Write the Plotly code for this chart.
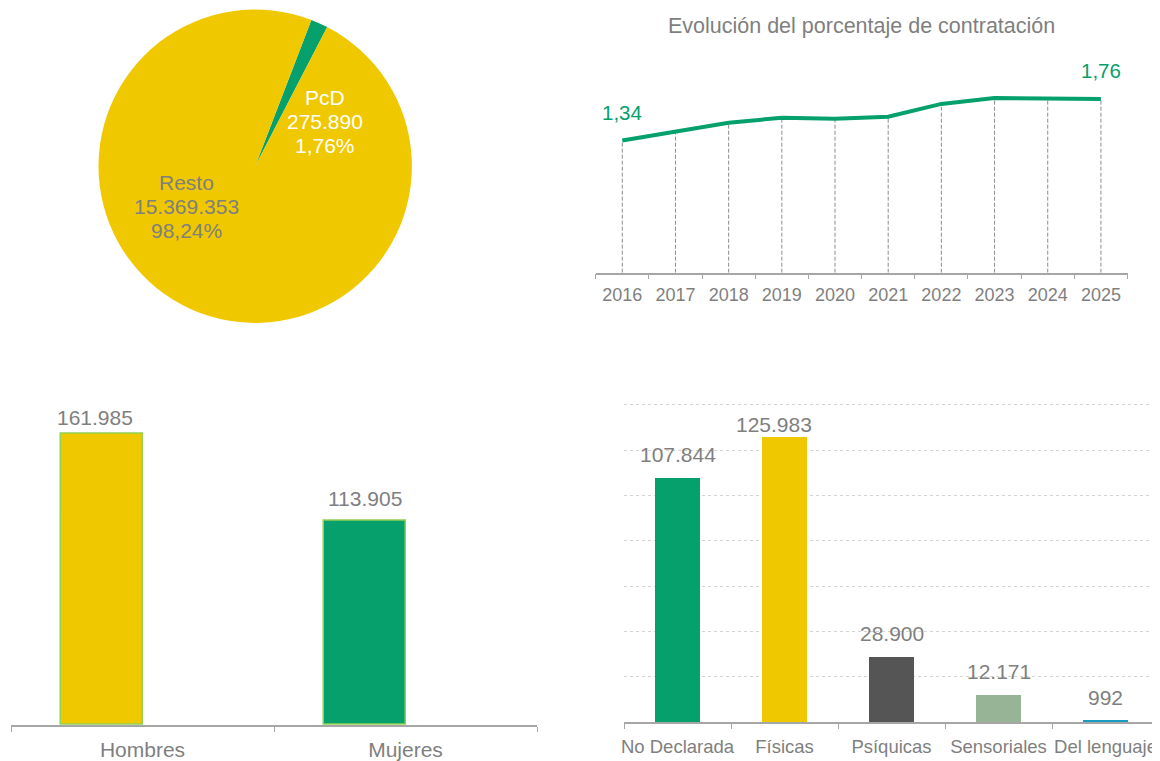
import plotly.graph_objects as go

# Contratos: personas con discapacidad frente al resto
pie_labels = ["PcD", "Resto"]
pie_values = [275890, 15369353]
pie_colors = ["#05a06c", "#f0c800"]

# Evolución del porcentaje de contratación
years = ["2016", "2017", "2018", "2019", "2020", "2021", "2022", "2023", "2024", "2025"]
pct = [1.34, 1.43, 1.52, 1.57, 1.56, 1.58, 1.71, 1.77, 1.76, 1.76]

# Por sexo
sexo = ["Hombres", "Mujeres"]
sexo_values = [161985, 113905]
sexo_colors = ["#f0c800", "#05a06c"]

# Por tipo de discapacidad
tipos = ["No Declarada", "Físicas", "Psíquicas", "Sensoriales", "Del lenguaje"]
tipos_values = [107844, 125983, 28900, 12171, 992]
tipos_colors = ["#05a06c", "#f0c800", "#555555", "#97b596", "#199cc1"]

GRAY = "#7f7f7f"
AXIS = "#a6a6a6"
GREEN = "#05a06c"
FONT = "Liberation Sans, Arial, sans-serif"

# the page body has an 8px margin, so layout positions are measured from there
PAGE_M = 8
W, H = 1160, 761


def fx(px):
    return (px - PAGE_M) / W


def fy(py):
    return 1 - (py - PAGE_M) / H


def miles(v):
    return f"{v:,}".replace(",", ".")


def dec(v):
    return f"{v:.2f}".replace(".", ",")


fig = go.Figure()

# --- tarta
fig.add_trace(go.Pie(
    labels=pie_labels, values=pie_values, sort=False, direction="clockwise",
    rotation=21, marker=dict(colors=pie_colors, line=dict(width=0)),
    textinfo="none", hoverinfo="label+value+percent", showlegend=False,
    domain=dict(x=[fx(98.5), fx(411.9)], y=[fy(322.9), fy(9.5)]),
))

total = sum(pie_values)
pie_pos = [(324.5, 121.5, "white"), (186, 206, GRAY)]
annotations = []
for l, v, (px, py, col) in zip(pie_labels, pie_values, pie_pos):
    lines = [l, miles(v), dec(v / total * 100) + "%"]
    for j, txt in enumerate(lines):
        annotations.append(dict(x=fx(px), y=fy(py), xref="paper", yref="paper", text=txt,
                                xanchor="center", yanchor="middle",
                                showarrow=False, yshift=(1 - j) * 24,
                                font=dict(size=21, color=col)))

# --- línea
drop_x, drop_y = [], []
for yr, v in zip(years, pct):
    drop_x += [yr, yr, None]
    drop_y += [0, v, None]
fig.add_trace(go.Scatter(x=drop_x, y=drop_y, mode="lines", xaxis="x", yaxis="y",
                         line=dict(color="#8c8c8c", width=1, dash="4px,2px"),
                         hoverinfo="skip", showlegend=False))
fig.add_trace(go.Scatter(x=years, y=pct, mode="lines", xaxis="x", yaxis="y",
                         line=dict(color=GREEN, width=4), showlegend=False))
for i in (0, len(years) - 1):
    annotations.append(dict(x=i, y=pct[i], xref="x", yref="y", text=dec(pct[i]),
                            showarrow=False, yshift=28, font=dict(size=20.5, color=GREEN)))

# --- barras por sexo
bar_w = 0.31
fig.add_trace(go.Bar(x=sexo, y=sexo_values, xaxis="x2", yaxis="y2", width=bar_w, offset=-bar_w,
                     marker=dict(color=sexo_colors, line=dict(color="#92d050", width=1.5)),
                     showlegend=False))
cat_px = (537 - 11) / 2
sexo_lab_shift = {"Hombres": (-7, 17)}
for s, v in zip(sexo, sexo_values):
    dx, dy = sexo_lab_shift.get(s, (0, 22))
    annotations.append(dict(x=s, y=v, xref="x2", yref="y2", text=miles(v), showarrow=False,
                            yshift=dy, xshift=-bar_w / 2 * cat_px + dx,
                            font=dict(size=21, color=GRAY)))

# --- barras por tipo
fig.add_trace(go.Bar(x=tipos, y=tipos_values, xaxis="x3", yaxis="y3", width=0.42,
                     marker=dict(color=tipos_colors, line=dict(width=0)), showlegend=False))
tipos_lab_shift = {"Físicas": (-11, 12)}
for t, v in zip(tipos, tipos_values):
    dx, dy = tipos_lab_shift.get(t, (0, 23))
    annotations.append(dict(x=t, y=v, xref="x3", yref="y3", text=miles(v), showarrow=False,
                            yshift=dy, xshift=dx, font=dict(size=21, color=GRAY)))

cat_axis = dict(type="category", showline=True, linecolor=AXIS, linewidth=1.5,
                ticks="outside", tickson="boundaries", ticklen=5, tickcolor=AXIS,
                tickangle=0, automargin=False, showgrid=False, zeroline=False,
                fixedrange=True)

fig.update_layout(
    template="none",
    width=W, height=H, margin=dict(l=0, r=0, t=0, b=0, pad=0),
    paper_bgcolor="white", plot_bgcolor="white",
    font=dict(family=FONT, color=GRAY),
    bargap=0,
    title=dict(text="Evolución del porcentaje de contratación", x=fx(861.6), xanchor="center",
               y=fy(25), yanchor="middle", font=dict(size=21.5, color=GRAY)),
    xaxis=dict(cat_axis, domain=[fx(595.7), fx(1127.5)], anchor="y", range=[-0.5, 9.5],
               tickfont=dict(size=18, color=GRAY), ticklabelstandoff=5),
    yaxis=dict(domain=[fy(272.7), fy(75.3)], range=[0, 2], visible=False,
               automargin=False, fixedrange=True),
    xaxis2=dict(cat_axis, domain=[fx(11), fx(537)], anchor="y2", range=[-0.5, 1.5],
                tickfont=dict(size=21, color=GRAY), ticklabelstandoff=5),
    yaxis2=dict(domain=[fy(725), fy(401.7)], range=[0, 180000], visible=False,
                automargin=False, fixedrange=True),
    xaxis3=dict(cat_axis, domain=[fx(624), fx(1159)], anchor="y3", range=[-0.5, 4.5],
                tickfont=dict(size=18.5, color=GRAY), ticklabelstandoff=7),
    yaxis3=dict(domain=[fy(722.3), fy(402.7)], range=[0, 141000], dtick=20000,
                showgrid=True, gridcolor="#d3d3d3", griddash="dot", gridwidth=1,
                showticklabels=False, showline=False, zeroline=False, ticks="",
                automargin=False, fixedrange=True),
    annotations=annotations,
)

fig.write_html("out.html")
